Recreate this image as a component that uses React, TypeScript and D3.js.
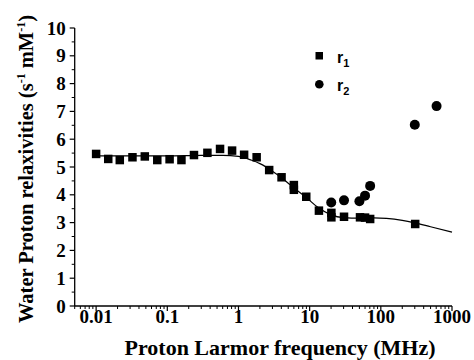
import React from "react";
import * as d3 from "d3";

const r1Freq = [0.01, 0.0148, 0.0215, 0.0324, 0.0483, 0.0723, 0.1077, 0.158, 0.237, 0.366, 0.551, 0.813, 1.2, 1.8, 2.7, 4.03, 6.0, 6.0, 8.96, 13.5, 20.2, 20.2, 30.4, 51, 60, 70.8, 304];
const r1Vals = [5.47, 5.29, 5.25, 5.35, 5.38, 5.25, 5.28, 5.25, 5.43, 5.51, 5.65, 5.59, 5.44, 5.35, 4.89, 4.63, 4.35, 4.18, 3.93, 3.43, 3.35, 3.19, 3.21, 3.19, 3.18, 3.13, 2.95];
const r2Freq = [20.1, 30.4, 50, 60, 70.8, 300, 607];
const r2Vals = [3.72, 3.8, 3.77, 3.97, 4.32, 6.52, 7.19];
const fitFreq = [0.01, 0.03, 0.1, 0.3, 0.6, 1, 1.5, 2, 3, 4, 6, 9, 13, 20, 30, 50, 80, 120, 200, 300, 500, 1000];
const fitVals = [5.4, 5.4, 5.4, 5.42, 5.42, 5.38, 5.25, 5.12, 4.85, 4.62, 4.25, 3.9, 3.55, 3.28, 3.18, 3.16, 3.17, 3.15, 3.08, 2.99, 2.85, 2.66];
const xTickLabels = ["0.01", "0.1", "1", "10", "100", "1000"];
const yTickValues = [0, 1, 2, 3, 4, 5, 6, 7, 8, 9, 10];

const W = 474, H = 360;
const left = 74.7, right = 452, top = 28, bottom = 306;

export default function App() {
  const x = d3.scaleLog().domain([0.005, 1000]).range([left, right]);
  const y = d3.scaleLinear().domain([0, 10]).range([bottom, top]);
  const font = "Liberation Serif, Times New Roman, serif";
  const sans = "Liberation Sans, Arial, sans-serif";
  const minorX: number[] = [];
  for (let e = -3; e <= 2; e++) {
    for (let k = 2; k <= 9; k++) {
      const v = k * Math.pow(10, e);
      if (v >= 0.005 && v < 1000) minorX.push(v);
    }
  }
  const minorY = d3.range(0.5, 10, 1);
  const line = d3
    .line<number>()
    .x((_, i) => x(fitFreq[i]))
    .y((d) => y(d))
    .curve(d3.curveMonotoneX);
  const sq = 8.5;
  return (
    <svg width={W} height={H} style={{ position: "absolute", left: 0, top: 0, background: "#fff" }}>
      <path d={line(fitVals) || ""} fill="none" stroke="#000" strokeWidth={1.2} />
      {/* axes */}
      <line x1={left} x2={right} y1={bottom} y2={bottom} stroke="#000" strokeWidth={1.3} />
      <line x1={left} x2={left} y1={bottom} y2={top} stroke="#000" strokeWidth={1.3} />
      {xTickLabels.map((t) => (
        <g key={t}>
          <line x1={x(+t)} x2={x(+t)} y1={bottom} y2={bottom + 5} stroke="#000" strokeWidth={1.2} />
          <text x={x(+t)} y={bottom + 17} textAnchor="middle" fontFamily={font} fontWeight="bold" fontSize={19}>
            {t}
          </text>
        </g>
      ))}
      {minorX.map((v, i) => (
        <line key={"mx" + i} x1={x(v)} x2={x(v)} y1={bottom} y2={bottom + 3} stroke="#000" strokeWidth={1} />
      ))}
      {yTickValues.map((t) => (
        <g key={"y" + t}>
          <line x1={left - 5} x2={left} y1={y(t)} y2={y(t)} stroke="#000" strokeWidth={1.2} />
          <text x={left - 9} y={y(t) + 6.5} textAnchor="end" fontFamily={font} fontWeight="bold" fontSize={19}>
            {t}
          </text>
        </g>
      ))}
      {minorY.map((v, i) => (
        <line key={"my" + i} x1={left - 3} x2={left} y1={y(v)} y2={y(v)} stroke="#000" strokeWidth={1} />
      ))}
      {/* data */}
      {r1Freq.map((f, i) => (
        <rect key={"s" + i} x={x(f) - sq / 2} y={y(r1Vals[i]) - sq / 2} width={sq} height={sq} fill="#000" />
      ))}
      {r2Freq.map((f, i) => (
        <circle key={"c" + i} cx={x(f)} cy={y(r2Vals[i])} r={5} fill="#000" />
      ))}
      {/* legend */}
      <rect x={315.5} y={52} width={7.5} height={7.5} fill="#000" />
      <text x={337} y={63} fontFamily={sans} fontWeight="bold" fontSize={16}>
        r<tspan fontSize={11} dy={4}>1</tspan>
      </text>
      <circle cx={319.3} cy={84.3} r={4.3} fill="#000" />
      <text x={337} y={91} fontFamily={sans} fontWeight="bold" fontSize={16}>
        r<tspan fontSize={11} dy={4}>2</tspan>
      </text>
      {/* titles */}
      <text x={280} y={355} textAnchor="middle" fontFamily={font} fontWeight="bold" fontSize={22}>
        Proton Larmor frequency (MHz)
      </text>
      <text
        transform={`translate(33, 169) rotate(-90)`}
        textAnchor="middle"
        fontFamily={font}
        fontWeight="bold"
        fontSize={20.5}
      >
        Water Proton relaxivities (s<tspan fontSize={12} dy={-8}>-1</tspan>
        <tspan dy={8}> mM</tspan>
        <tspan fontSize={12} dy={-8}>-1</tspan>
        <tspan dy={8}>)</tspan>
      </text>
    </svg>
  );
}
